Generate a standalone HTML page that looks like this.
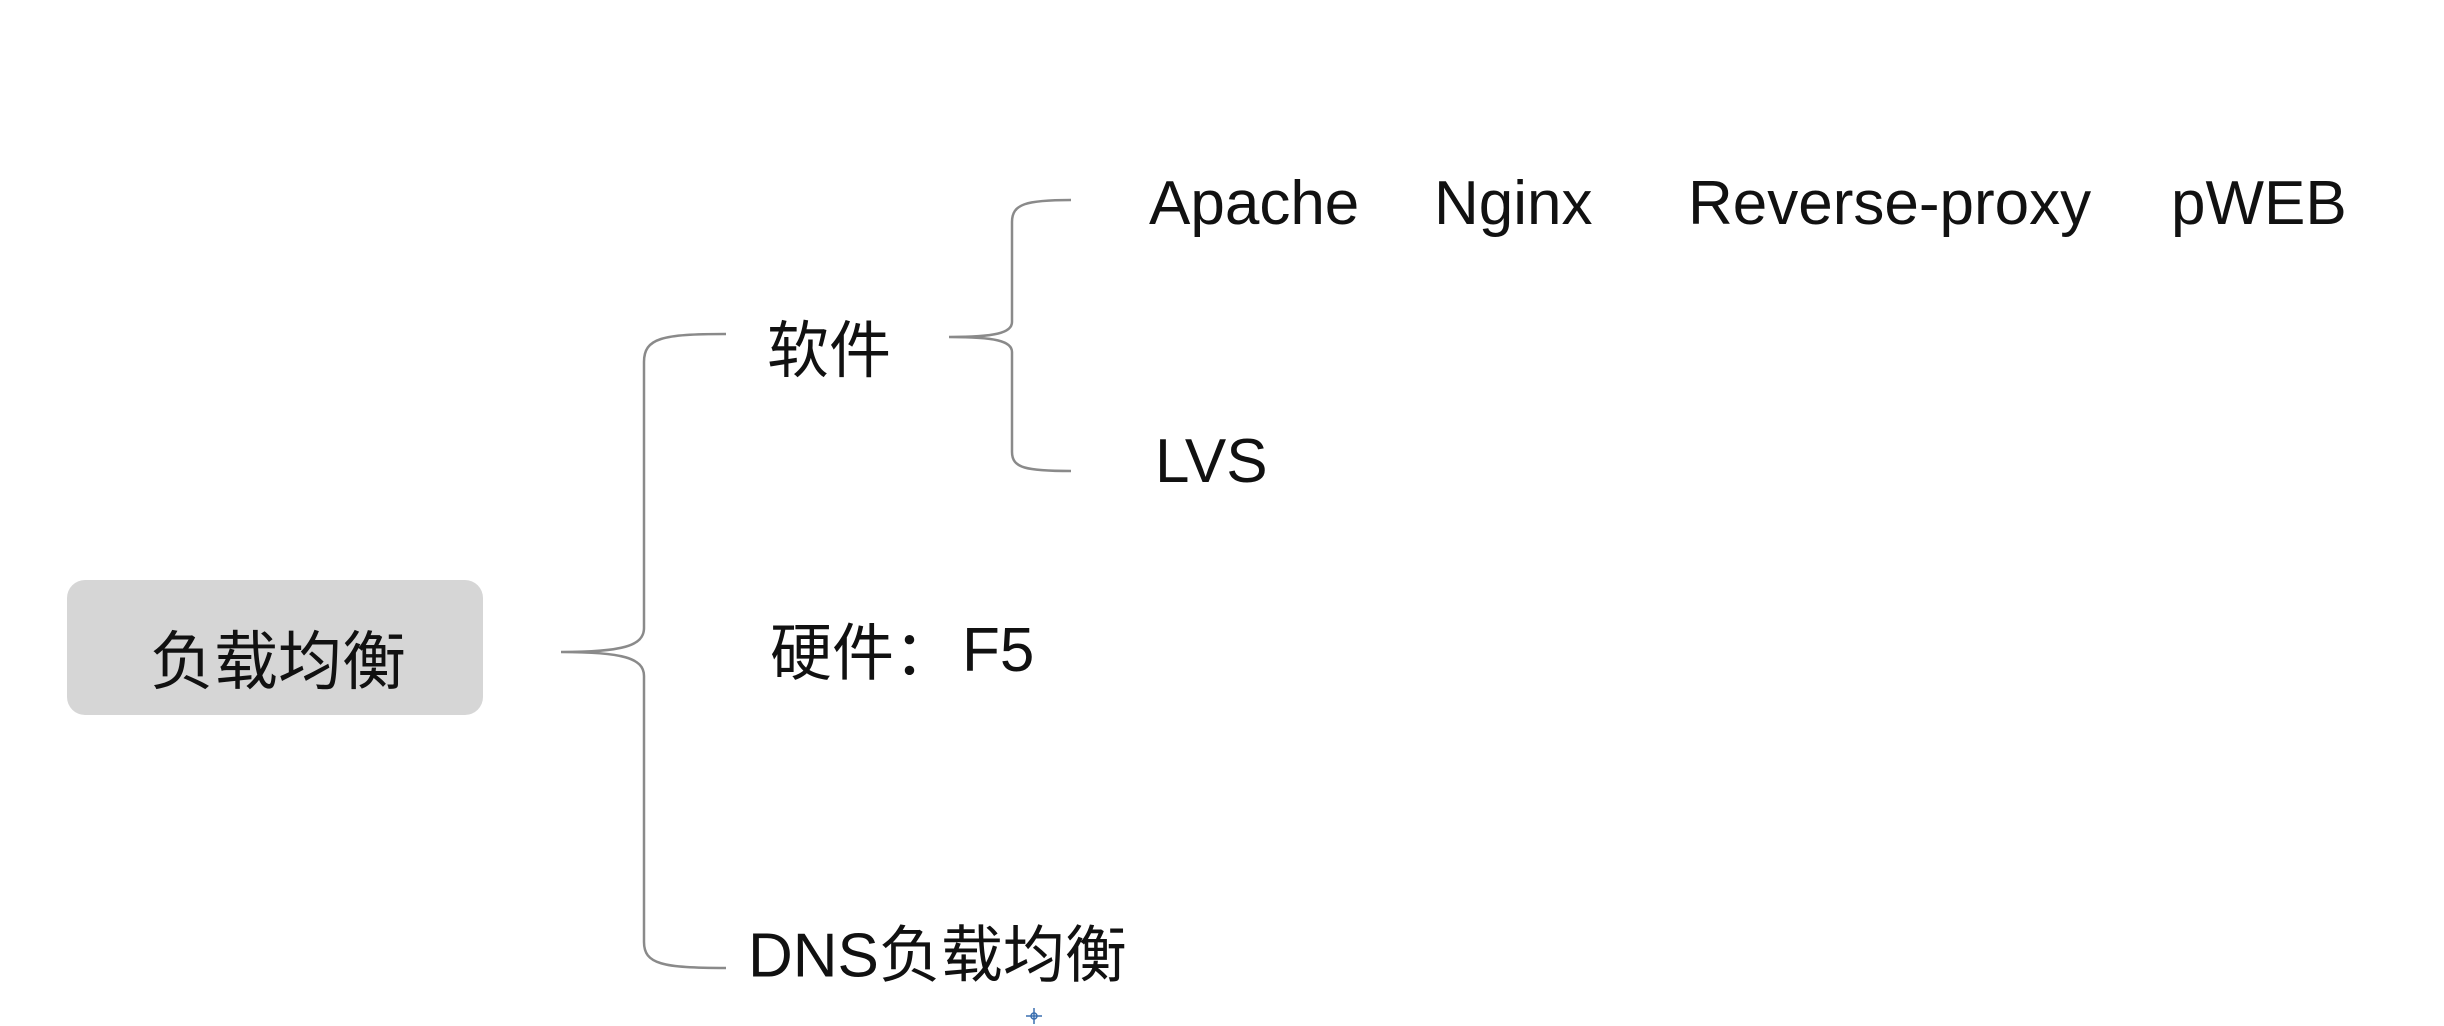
<!DOCTYPE html>
<html><head><meta charset="utf-8">
<style>
html,body{margin:0;padding:0;background:#fff;}
body{width:2444px;height:1026px;position:relative;overflow:hidden;font-family:"Liberation Sans","Noto Sans CJK SC",sans-serif;color:#111;}
.t{position:absolute;font-size:62px;line-height:1;white-space:nowrap;transform:translateY(-50%);}
.box{position:absolute;left:67px;top:580px;width:416px;height:135px;background:#d6d6d6;border-radius:18px;}
</style></head><body>
<div class="box"></div>
<div class="t" style="left:150px;top:657px;font-size:64px;font-family:'Noto Sans CJK SC',sans-serif;">负载均衡</div>
<svg width="2444" height="1026" style="position:absolute;left:0;top:0" fill="none" stroke="#8a8a8a" stroke-width="2.5">
<path d="M726,334 C662,334 644,338 644,362 L644,628 C644,646 622,652 561,652 C622,652 644,658 644,676 L644,942 C644,964 662,968 726,968"/>
<path d="M1071,200 C1026,200 1012,204 1012,222 L1012,322 C1012,333 995,337 949,337 C995,337 1012,341 1012,352 L1012,452 C1012,468 1026,471 1071,471"/>
</svg>
<div class="t" style="left:767px;top:345px;font-family:'Noto Sans CJK SC',sans-serif;">软件</div>
<div class="t" style="left:1149px;top:204px;">Apache</div>
<div class="t" style="left:1434px;top:204px;">Nginx</div>
<div class="t" style="left:1688px;top:204px;">Reverse-proxy</div>
<div class="t" style="left:2171px;top:204px;">pWEB</div>
<div class="t" style="left:1155px;top:462px;">LVS</div>
<div class="t" style="left:770px;top:651px;"><span style="font-family:'Noto Sans CJK SC',sans-serif;">硬件：</span></div>
<div class="t" style="left:962px;top:651px;">F5</div>
<div class="t" style="left:748px;top:953px;">DNS<span style="font-family:'Noto Sans CJK SC',sans-serif;">负载均衡</span></div>
<svg width="20" height="20" style="position:absolute;left:1024px;top:1006px" stroke="#3a6fb0" stroke-width="1.5" fill="none">
<line x1="10" y1="2" x2="10" y2="18"/><line x1="2" y1="10" x2="18" y2="10"/><circle cx="10" cy="10" r="3"/>
</svg>
</body></html>
